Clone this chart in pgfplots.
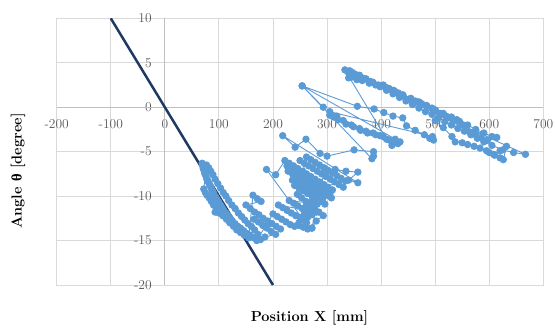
\documentclass[border=0pt]{standalone}
\usepackage{pgfplots}
\pgfplotsset{compat=1.18}
\usepackage{fontspec}
\newfontfamily\greekfont{Liberation Serif}
\definecolor{ptblue}{HTML}{5B9BD5}
\definecolor{navyline}{HTML}{1F3864}
\definecolor{gridgray}{HTML}{D9D9D9}
\definecolor{axisgray}{HTML}{BFBFBF}
\definecolor{ticklab}{HTML}{595959}
\begin{document}
\begin{tikzpicture}[x=1pt,y=1pt]
\begin{axis}[
  set layers,
  at={(56.7pt,42pt)}, anchor=south west,
  scale only axis, width=486.6pt, height=266.7pt,
  xmin=-200, xmax=700, ymin=-20, ymax=10,
  xtick={-200,-100,...,700}, ytick={-20,-15,...,10},
  axis line style={draw=gridgray, line width=0.9pt},
  grid=major, major grid style={draw=gridgray, line width=0.9pt},
  tick style={draw=none},
  /pgf/number format/assume math mode=true,
  xticklabel style={font=\fontsize{13.5}{15}\selectfont, text=ticklab, anchor=center, inner sep=0pt, yshift=160.7pt},
  yticklabel style={font=\fontsize{13.5}{15}\selectfont, text=ticklab, anchor=east, inner sep=0pt, xshift=95.2pt},
  xlabel={Position X [mm]},
  ylabel={Angle {\greekfont θ} [degree]},
  xlabel style={at={(axis description cs:0.5195,-0.1237)}, anchor=center, font=\fontsize{14.5}{16}\selectfont\bfseries},
  ylabel style={at={(axis description cs:-0.0795,0.4276)}, anchor=center, font=\fontsize{14.5}{16}\selectfont\bfseries},
]
\draw[axisgray, line width=0.9pt] (axis cs:0,-20) -- (axis cs:0,10);
\draw[axisgray, line width=0.9pt] (axis cs:-200,0) -- (axis cs:700,0);
\addplot[color=ptblue, line width=0.9pt, mark=*, mark size=3.2pt, mark options={fill=ptblue, draw=ptblue}] coordinates {
(69,-6.3) (70,-6.6) (71,-6.9) (73,-7.2) (74,-7.5) (76,-7.7) (77,-8.0) (79,-8.2) (81,-8.5) (83,-8.8)
(85,-9.0) (87,-9.3) (89,-9.5) (91,-9.8) (94,-10.1) (97,-10.4) (100,-10.7) (103,-11.0) (106,-11.3) (109,-11.6)
(113,-11.9) (117,-12.2) (121,-12.5) (125,-12.8) (130,-13.1) (135,-13.4) (140,-13.6) (146,-13.9) (152,-14.2) (158,-14.4) (165,-14.7)
(172,-14.3) (166,-13.8) (160,-13.4) (154,-13.1) (148,-12.7) (142,-12.3) (136,-11.9) (130,-11.4) (124,-11.0) (118,-10.5)
(113,-10.0) (108,-9.6) (103,-9.1) (98,-8.6) (93,-8.1) (89,-7.6) (85,-7.2) (81,-6.8) (77,-6.5)
(72,-9.2) (75,-9.6) (78,-9.9) (82,-10.2) (86,-10.6) (90,-11.0) (95,-11.4) (93,-11.8) (100,-11.9) (107,-12.2)
(114,-12.6) (120,-13.0) (127,-13.4) (133,-13.8) (140,-14.1) (147,-14.4) (155,-14.7)
(163,-9.9) (171,-10.3) (178,-10.6)
(150,-11.0) (158,-11.4) (166,-11.8) (174,-12.1) (182,-12.5) (190,-12.8) (198,-13.1) (206,-13.4) (214,-13.7)
(165,-12.6) (173,-12.9) (181,-13.3) (189,-13.6) (197,-14.0) (205,-14.3) (185,-14.6) (177,-14.9) (170,-15.0)
(200,-12.0) (208,-12.3) (216,-12.6) (224,-12.9) (232,-13.2) (240,-13.4) (248,-13.0) (256,-12.7) (264,-12.4) (272,-12.1) (280,-11.8)
(210,-11.0) (218,-11.3) (226,-11.6) (234,-11.9) (242,-12.2) (250,-12.4) (258,-12.0) (266,-11.6) (274,-11.2) (282,-10.9)
(230,-10.5) (238,-10.8) (246,-11.1) (254,-11.4) (262,-11.0) (270,-10.7) (278,-10.4) (286,-10.1)
(248,-13.3) (256,-13.5) (264,-13.7) (272,-13.6) (262,-13.0) (254,-12.5)
(188,-7.0) (205,-7.6)
(222,-6.0) (230,-6.3) (238,-6.6) (246,-6.9) (254,-7.2) (262,-7.5) (270,-7.8) (278,-8.1) (286,-8.4) (294,-8.7) (302,-9.0) (310,-9.3)
(226,-6.6) (234,-6.9) (242,-7.2) (250,-7.5) (258,-7.8) (266,-8.1) (274,-8.4) (282,-8.7) (290,-9.0) (298,-9.3) (306,-9.6)
(228,-7.2) (236,-7.5) (244,-7.8) (252,-8.1) (260,-8.4) (268,-8.7) (276,-9.0) (284,-9.3) (292,-9.6) (300,-9.9) (308,-10.2)
(236,-8.2) (244,-8.5) (252,-8.8) (260,-9.1) (268,-9.4) (276,-9.7) (284,-10.0) (292,-10.3)
(240,-8.8) (248,-9.1) (256,-9.4) (264,-9.7) (272,-10.0) (280,-10.3) (288,-10.6) (296,-10.9)
(250,-6.0) (258,-6.3) (266,-6.6) (274,-6.9) (282,-7.2) (290,-7.5) (298,-7.8) (306,-8.1) (314,-8.4) (322,-8.7) (330,-9.0)
(262,-5.6) (270,-5.9) (278,-6.2) (286,-6.5) (294,-6.8) (302,-7.1) (310,-7.4) (318,-7.7) (326,-8.0) (334,-8.3)
(245,-9.8) (253,-10.2) (261,-10.6) (269,-11.0) (277,-11.4) (285,-11.8) (293,-12.2) (280,-12.8) (272,-13.6)
(296,-6.9) (315,-7.0) (335,-7.2) (357,-7.3) (340,-8.2) (357,-8.5)
(218,-3.2) (241,-4.5) (261,-3.6) (287,-5.2) (300,-5.5) (350,-4.8) (386,-5.0) (386,-5.5) (383,-5.8)
(254,2.4) (293,0.0) (305,-0.9) (312,-1.1) (320,-1.4) (335,-1.9) (349,-2.2) (362,-2.6) (375,-2.9) (390,-3.1)
(404,-3.3) (415,-3.7) (423,-4.0) (431,-4.1) (426,-3.6) (420,-4.3) (435,-3.9)
(254,2.4) (356,0.1) (387,-0.2) (405,-0.6) (422,-1.0) (440,-1.2) (447,-2.1) (463,-2.6) (480,-3.1) (490,-3.5) (497,-3.7) (495,-3.3)
(305,-0.5) (318,-1.0) (330,-1.5) (345,-2.0) (360,-2.4) (372,-2.7) (385,-2.9) (398,-3.2) (410,-3.6)
(333,4.2) (338,4.0) (342,4.1) (347,3.9) (352,3.7) (340,3.3) (346,3.4) (355,3.1) (365,3.0) (378,2.7)
(390,2.5) (404,2.5) (415,2.1) (423,1.9) (432,1.6) (441,1.3) (452,0.9) (463,0.7) (475,0.4) (484,0.2)
(494,-0.1) (501,-0.4) (509,-0.7) (520,-1.0) (530,-1.2) (540,-1.4) (552,-2.0) (564,-2.8) (575,-3.1) (585,-3.4) (597,-3.7)
(360,3.6) (372,3.2) (385,2.8) (398,2.3) (410,1.9) (422,1.5) (434,1.1) (446,0.7) (458,0.3) (470,-0.1)
(482,-0.5) (494,-0.8) (506,-1.2) (518,-1.6) (530,-2.0) (542,-2.4) (554,-2.7) (566,-3.1) (578,-3.5) (590,-3.9)
(605,-4.3) (625,-4.8) (645,-5.1) (667,-5.3)
(350,3.5) (365,3.3) (380,2.9) (395,2.5) (410,2.2) (425,1.8) (440,1.4) (455,1.0) (470,0.6) (485,0.1)
(500,-0.3) (515,-0.7) (530,-1.1) (545,-1.6) (560,-2.0) (575,-2.5) (590,-2.9) (605,-3.3) (614,-3.4)
(500,-1.5) (515,-2.3) (531,-3.3) (537,-3.9) (550,-4.0) (560,-4.2) (572,-4.4) (583,-4.6) (595,-4.9) (600,-5.1)
(610,-5.4) (620,-5.7) (626,-5.9) (632,-4.4) (620,-4.9) (608,-5.3)
};
\addplot[color=navyline, line width=2.5pt] coordinates {(-100,10) (200,-20)};
\end{axis}
\path (0,0) rectangle (556,327);
\end{tikzpicture}
\end{document}
